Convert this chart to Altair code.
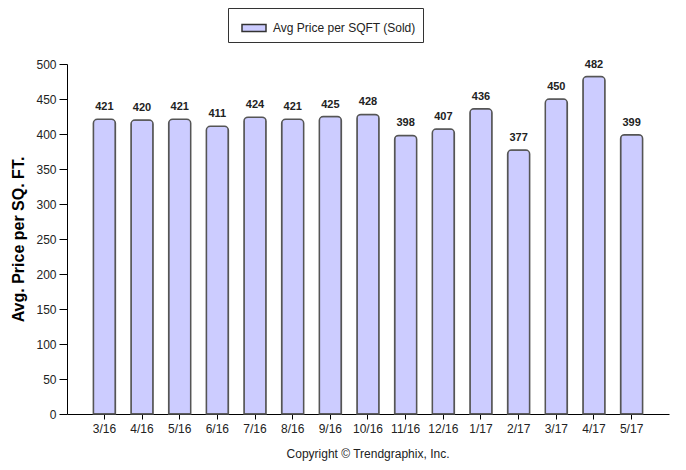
import altair as alt
import pandas as pd

months = ["3/16", "4/16", "5/16", "6/16", "7/16", "8/16", "9/16", "10/16",
          "11/16", "12/16", "1/17", "2/17", "3/17", "4/17", "5/17"]
prices = [421, 420, 421, 411, 424, 421, 425, 428, 398, 407, 436, 377, 450, 482, 399]
series_name = "Avg Price per SQFT (Sold)"
y_ticks = list(range(0, 501, 50))

df = pd.DataFrame({"month": months, "price": prices, "series": [series_name] * len(months)})

FONT = "Liberation Sans"

x_enc = alt.X(
    "month:N", sort=months,
    scale=alt.Scale(paddingInner=0.415, paddingOuter=0.70),
    axis=alt.Axis(title=None, labelAngle=0, labelFontSize=12, labelColor="#222",
                  labelFont=FONT, tickSize=5, tickColor="#000", domainColor="#000",
                  labelPadding=4, grid=False, labelOverlap=False),
)
y_enc = alt.Y(
    "price:Q",
    scale=alt.Scale(domain=[0, 500], nice=False),
    axis=alt.Axis(values=y_ticks, title="Avg. Price per SQ. FT.", titleFontSize=16,
                  titleFontWeight="bold", titleFont=FONT, titleColor="#000",
                  titlePadding=9, labelFontSize=12, labelColor="#222", labelFont=FONT,
                  tickSize=8, tickColor="#000", domainColor="#000", labelPadding=3,
                  grid=False, labelOverlap=False),
)

base = alt.Chart(df).encode(x=x_enc, y=y_enc)

bars = base.mark_bar(stroke="#555", strokeWidth=1.5, cornerRadiusTopLeft=4,
                     cornerRadiusTopRight=4).encode(
    color=alt.Color("series:N", scale=alt.Scale(range=["#ccccff"]),
                    legend=alt.Legend(title=None, orient="none", legendX=161, legendY=-56,
                                      fillColor="white", strokeColor="#333", padding=7,
                                      symbolType="M-1,-0.3H1V0.3H-1Z", symbolSize=576,
                                      symbolStrokeColor="#333", symbolStrokeWidth=1.5,
                                      labelFontSize=12, labelFont=FONT, labelColor="#222",
                                      labelOffset=6, symbolOffset=6)),
)

labels = base.mark_text(baseline="alphabetic", dy=-9, fontSize=11, fontWeight="bold",
                        font=FONT, color="#222").encode(
    text=alt.Text("price:Q"),
)

chart = (bars + labels).properties(
    width=602, height=350,
    padding={"left": 59, "top": 56, "right": 9, "bottom": 48},
    autosize="none",
    title=alt.TitleParams("Copyright © Trendgraphix, Inc.", orient="bottom", anchor="middle",
                          fontSize=12, fontWeight="normal", font=FONT, color="#222", offset=15),
).configure(background="white").configure_view(strokeWidth=0)

chart.save("out.html", embed_options={"renderer": "svg", "actions": False})
